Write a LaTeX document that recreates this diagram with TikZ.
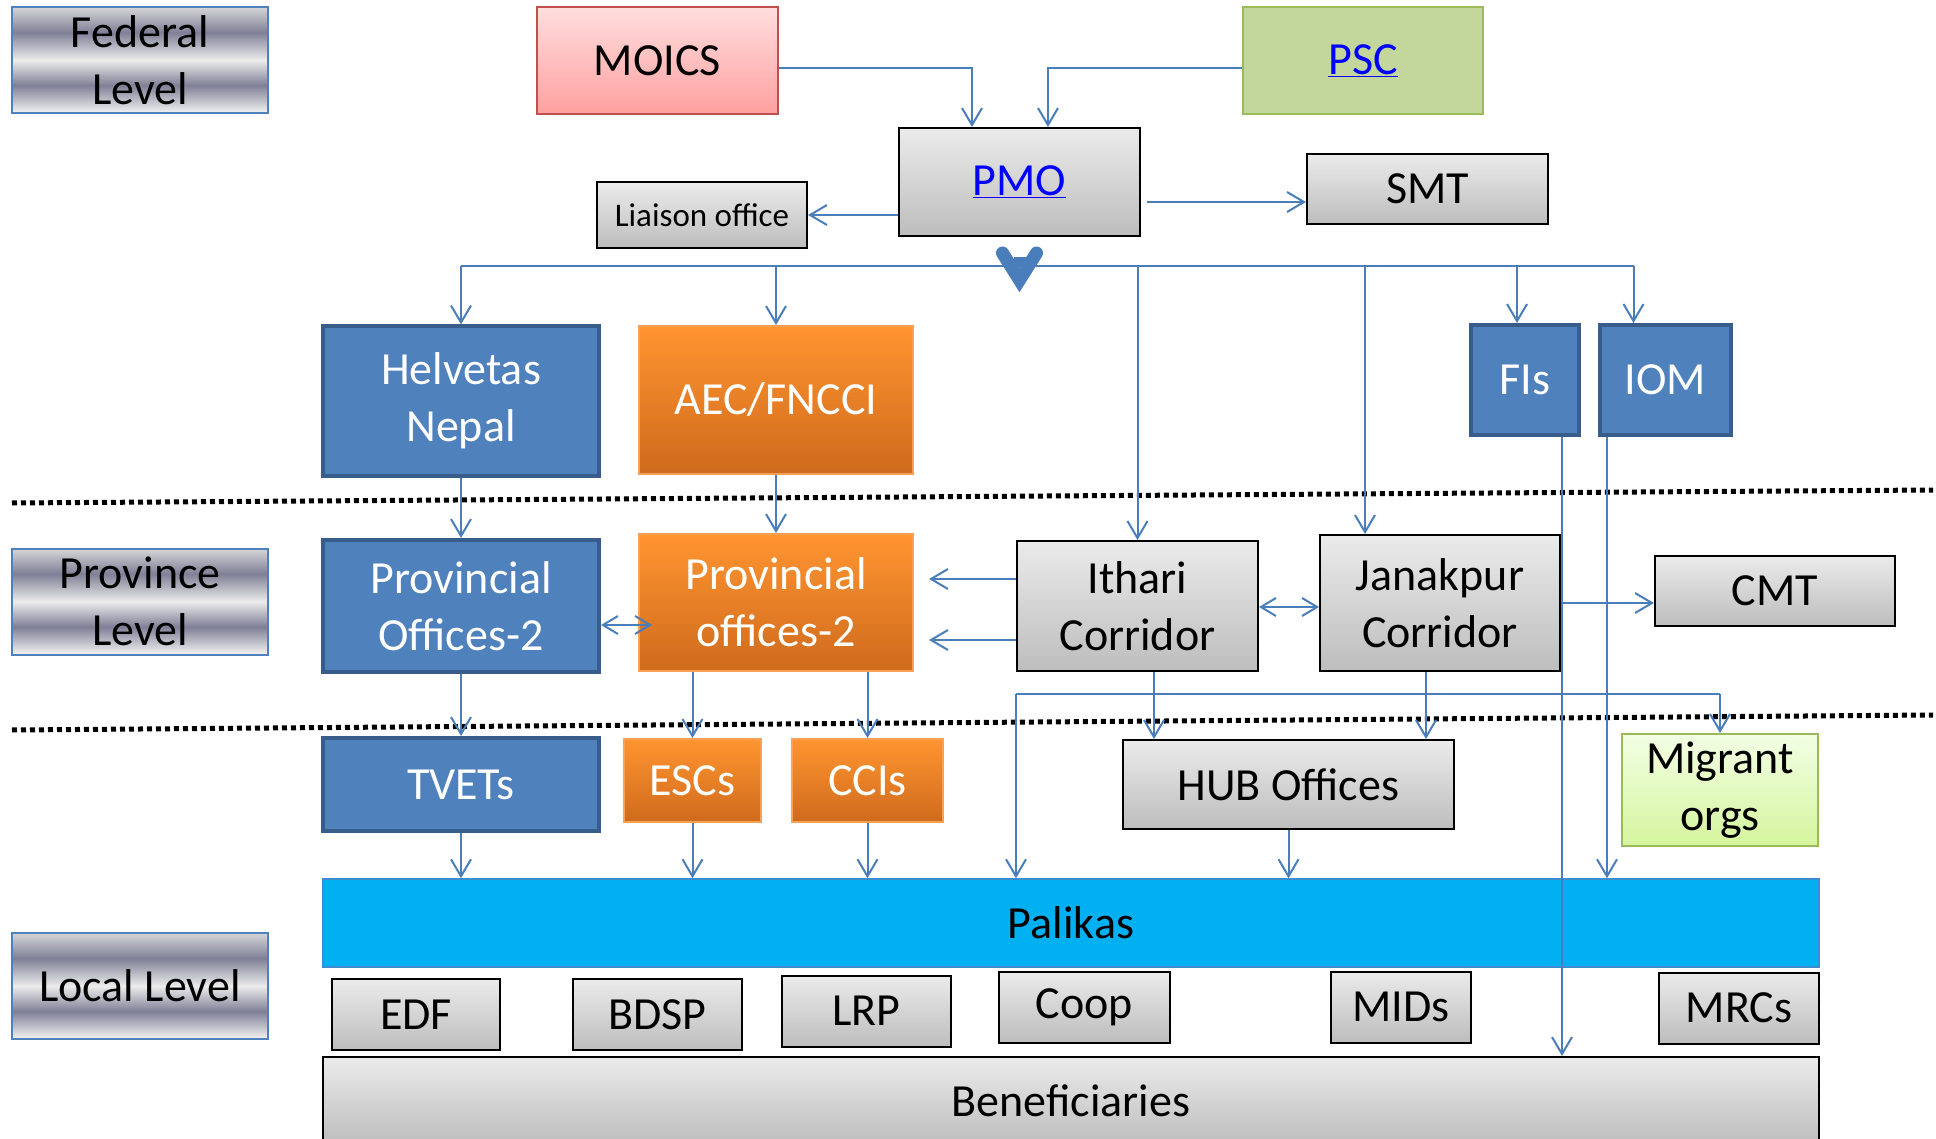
\documentclass[tikz,border=0pt]{standalone}
\usepackage{fontspec}
\setmainfont{Carlito}
\usetikzlibrary{arrows.meta,calc}

\definecolor{wireblue}{HTML}{4A7EBB}
\definecolor{lvlborder}{HTML}{4F81BD}
\definecolor{metalLight}{HTML}{F4F4F4}
\definecolor{metalDark}{HTML}{7F8096}
\definecolor{metalMid}{HTML}{ECECEC}
\definecolor{metalTop}{HTML}{D6D6D8}
\definecolor{grayTop}{HTML}{EBEBEB}
\definecolor{grayBot}{HTML}{BDBDBD}
\definecolor{blueFill}{HTML}{4F81BD}
\definecolor{blueEdge}{HTML}{385D8A}
\definecolor{orangeTop}{HTML}{FF9430}
\definecolor{orangeBot}{HTML}{CF6B1D}
\definecolor{orangeEdge}{HTML}{F9A055}
\definecolor{moicsTop}{HTML}{FFDEDE}
\definecolor{moicsBot}{HTML}{FFA0A0}
\definecolor{moicsEdge}{HTML}{C0504D}
\definecolor{pscFill}{HTML}{C3D69B}
\definecolor{greenEdge}{HTML}{9BBB59}
\definecolor{migTop}{HTML}{F2FFE4}
\definecolor{migBot}{HTML}{D5F59E}
\definecolor{palFill}{HTML}{00B0F0}
\definecolor{palEdge}{HTML}{3C8DD0}
\definecolor{linkblue}{HTML}{0000FF}

\pgfdeclareverticalshading{metal}{100bp}{color(0bp)=(metalLight); color(25bp)=(metalLight); color(38bp)=(metalDark); color(50bp)=(metalMid); color(63bp)=(metalDark); color(75bp)=(metalTop); color(100bp)=(metalTop)}

\newcommand\bigtxt{\fontsize{46}{57}\selectfont}
\newcommand\smalltxt{\fontsize{33}{40}\selectfont}
\newcommand\ulink[1]{\textcolor{linkblue}{\underline{#1}}}

\tikzset{
  lvl/.style={draw=lvlborder, line width=2pt, shade, shading=metal, minimum width=256pt, minimum height=106pt, inner sep=0pt, align=center, font=\bigtxt},
  graybox/.style={draw=black, line width=2pt, top color=grayTop, bottom color=grayBot, inner sep=0pt, align=center, font=\bigtxt},
  bluebox/.style={draw=blueEdge, line width=4pt, fill=blueFill, text=white, inner sep=0pt, align=center, font=\bigtxt},
  orangebox/.style={draw=orangeEdge, line width=2pt, top color=orangeTop, bottom color=orangeBot, text=white, inner sep=0pt, align=center, font=\bigtxt},
  conn/.style={draw=wireblue, line width=2pt, -{Straight Barb[length=17pt,width=20pt]}},
  both/.style={conn, {Straight Barb[length=15pt,width=18pt]}-{Straight Barb[length=15pt,width=18pt]}},
  wire/.style={draw=wireblue, line width=2pt},
  levelsep/.style={line width=5pt, dash pattern=on 5pt off 4pt}
}

\begin{document}
\begin{tikzpicture}[x=1pt,y=-1pt]
\useasboundingbox (0,0) rectangle (1936,1139);

% level separators
\draw[levelsep] (12,503) -- (1933,490);
\draw[levelsep] (12,730) -- (1933,715);

% level labels
\node[lvl] (federal) at (140,60) {Federal\\Level};
\node[lvl] (province) at (140,601.5) {Province\\Level};
\node[lvl] (local) at (140,986) {Local Level};

% federal level
\node[draw=moicsEdge, line width=2pt, top color=moicsTop, bottom color=moicsBot, minimum width=241pt, minimum height=107pt, font=\bigtxt] (MOICS) at (657.5,60.5) {MOICS};
\node[draw=greenEdge, line width=2pt, fill=pscFill, minimum width=240pt, minimum height=107pt, font=\bigtxt] (PSC) at (1363,60.5) {\ulink{PSC}};
\node[graybox, minimum width=241pt, minimum height=108pt] (PMO) at (1019.5,182) {\ulink{PMO}};
\node[graybox, minimum width=241pt, minimum height=70pt] (SMT) at (1427.5,189) {SMT};
\node[graybox, minimum width=210pt, minimum height=66pt, font=\smalltxt] (Liaison) at (702,215) {Liaison office};
\node[bluebox, minimum width=276pt, minimum height=149pt] (Helvetas) at (461,401) {Helvetas\\Nepal};
\node[orangebox, minimum width=274pt, minimum height=148pt] (AEC) at (776,400) {AEC/FNCCI};
\node[bluebox, minimum width=108pt, minimum height=110pt] (FIs) at (1525,380) {FIs};
\node[bluebox, minimum width=131pt, minimum height=110pt] (IOM) at (1665.5,380) {IOM};

% province level
\node[bluebox, minimum width=276pt, minimum height=132pt] (ProvB) at (461,606) {Provincial\\Offices-2};
\node[orangebox, minimum width=274pt, minimum height=137pt] (ProvO) at (776,602.5) {Provincial\\offices-2};
\node[graybox, minimum width=241pt, minimum height=130pt] (Ithari) at (1137.5,606) {Ithari\\Corridor};
\node[graybox, minimum width=240pt, minimum height=136pt] (Janakpur) at (1440,603) {Janakpur\\Corridor};
\node[graybox, minimum width=240pt, minimum height=70pt] (CMT) at (1775,591) {CMT};

% local level
\node[bluebox, minimum width=276pt, minimum height=93pt] (TVETs) at (461,784.5) {TVETs};
\node[orangebox, minimum width=137pt, minimum height=83pt] (ESCs) at (692.5,780.5) {ESCs};
\node[orangebox, minimum width=151pt, minimum height=83pt] (CCIs) at (867.5,780.5) {CCIs};
\node[graybox, minimum width=331pt, minimum height=89pt] (HUB) at (1288.5,784.5) {HUB Offices};
\node[draw=greenEdge, line width=2pt, top color=migTop, bottom color=migBot, minimum width=196pt, minimum height=112pt, inner sep=0pt, align=center, font=\bigtxt] (Migrant) at (1720,790) {Migrant\\orgs};
\node[draw=palEdge, line width=1.5pt, fill=palFill, minimum width=1496pt, minimum height=88pt, font=\bigtxt] (Palikas) at (1071,923) {Palikas};
\foreach \nm/\cx/\cy/\w in {EDF/416/1014.5/168, BDSP/657.5/1014.5/169, LRP/866.5/1011/169, Coop/1084.5/1007/171, MIDs/1401/1007/140, MRCs/1739/1008/160}
  \node[graybox, minimum width=\w pt, minimum height=71pt] (\nm) at (\cx,\cy) {\nm};
\node[graybox, minimum width=1496pt, minimum height=88pt] (Beneficiaries) at (1071,1101) {Beneficiaries};

% federal connectors
\draw[conn] ($(MOICS.east)+(0,7.5)$) -| ($(PMO.north)+(-47.5,0)$);
\draw[conn] ($(PSC.west)+(0,7.5)$) -| ($(PMO.north)+(28.5,0)$);
\draw[conn] (PMO.west |- Liaison.east) -- (Liaison.east);
\draw[conn] ($(PMO.east)+(6,20)$) -- ($(SMT.west)+(0,13)$);
\draw[wireblue, line width=13pt, line cap=round, line join=miter] ($(PMO.south)+(-17,16)$) -- ($(PMO.south)+(0,43)$) -- ($(PMO.south)+(17,16)$);
\fill[wireblue] ($(PMO.south)+(-6,20)$) rectangle ($(PMO.south)+(6,30)$);

\coordinate (busA) at (0,266);
\coordinate (busB) at (0,694);
\coordinate (janIn) at ($(Janakpur.north)+(-75,0)$);
\coordinate (fisIn) at ($(FIs.north)+(-8,0)$);
\coordinate (iomIn) at ($(IOM.north)+(-32,0)$);
\coordinate (fisOut) at ($(FIs.south)+(37,0)$);
\coordinate (iomOut) at ($(IOM.south)+(-58.5,0)$);
\coordinate (ithOut) at ($(Ithari.south)+(16.5,0)$);
\coordinate (janOut) at ($(Janakpur.south)+(-14,0)$);

\draw[wire] (Helvetas.north |- busA) -- (iomIn |- busA);
\foreach \t in {Helvetas.north, AEC.north, Ithari.north, janIn, fisIn, iomIn}
  \draw[conn] (\t |- busA) -- (\t);

% province connectors
\draw[conn] (Helvetas.south) -- (ProvB.north);
\draw[conn] (AEC.south) -- (ProvO.north);
\draw[both] ($(ProvB.east)+(0,19)$) -- ($(ProvO.west)+(14,22.5)$);
\draw[conn] ($(Ithari.west)+(0,-27)$) -- ($(ProvO.east)+(15,-23.5)$);
\draw[conn] ($(Ithari.west)+(0,34)$) -- ($(ProvO.east)+(15,37.5)$);
\draw[both] ($(Ithari.east)+(0,1)$) -- ($(Janakpur.west)+(0,4)$);
\draw[conn] (Janakpur.east) -- ($(CMT.west)+(0,12)$);

% local connectors
\draw[conn] (ProvB.south) -- (TVETs.north);
\draw[conn] (ESCs.north |- ProvO.south) -- (ESCs.north);
\draw[conn] (CCIs.north |- ProvO.south) -- (CCIs.north);
\draw[conn] (ithOut) -- (ithOut |- HUB.north);
\draw[conn] (janOut) -- (janOut |- HUB.north);
\draw[wire] (Ithari.west |- busB) -- (Migrant.north |- busB);
\draw[conn] (Ithari.west |- busB) -- (Ithari.west |- Palikas.north);
\draw[conn] (Migrant.north |- busB) -- (Migrant.north);
\foreach \s in {TVETs.south, ESCs.south, CCIs.south, HUB.south, iomOut}
  \draw[conn] (\s) -- (\s |- Palikas.north);
\draw[conn] (fisOut) -- (fisOut |- Beneficiaries.north);
\end{tikzpicture}
\end{document}
